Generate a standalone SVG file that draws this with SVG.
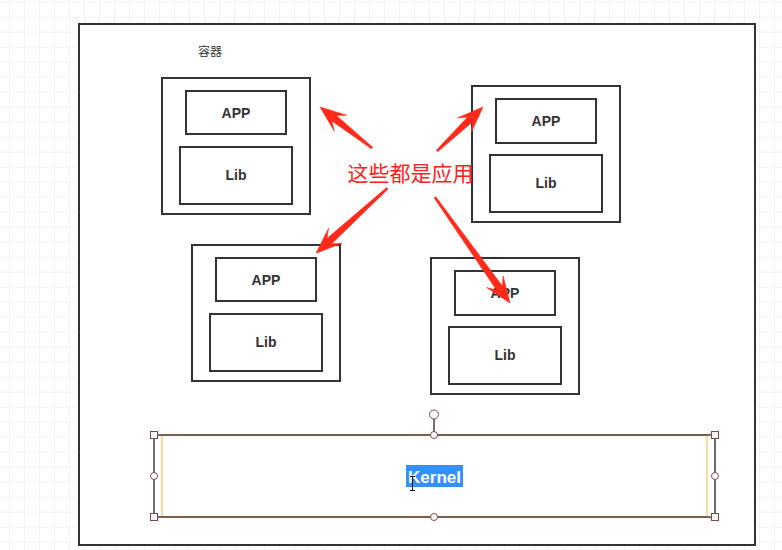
<svg xmlns="http://www.w3.org/2000/svg" width="782" height="550" viewBox="0 0 782 550">
<defs>
<pattern id="grid" x="9" y="1.7" width="15" height="15" patternUnits="userSpaceOnUse">
<path d="M0 0H15M0 0V15" fill="none" stroke="#e8e8e8" stroke-width="1"/>
</pattern>
</defs>
<style>
.box{fill:#fff;stroke:#333;stroke-width:2}
.lbl{font-family:"Liberation Sans",Arial,sans-serif;font-weight:bold;font-size:14px;fill:#333;text-anchor:middle}
.arrow{fill:#ff2a1a;stroke:#ff2a1a;stroke-width:0.6;stroke-linejoin:round}
.handle{fill:#fff;stroke:#7a4a4a;stroke-width:1}
.sel{fill:none;stroke:#3e2e2e;stroke-width:1.4}
</style>
<rect width="782" height="550" fill="#fff"/>
<rect width="782" height="550" fill="url(#grid)"/>
<g id="container">
<rect x="79" y="24" width="676" height="521" class="box"/>
<text x="210" y="56" font-family="'Noto Sans CJK SC','Liberation Sans',sans-serif" font-size="12" fill="#333" text-anchor="middle">容器</text>
</g>
<g id="app1">
<rect x="162" y="78" width="148" height="136" class="box"/>
<rect x="186" y="91" width="100" height="43" class="box"/>
<text x="236" y="118" class="lbl">APP</text>
<rect x="180" y="147" width="112" height="57" class="box"/>
<text x="236" y="180" class="lbl">Lib</text>
</g>
<g id="app2">
<rect x="472" y="86" width="148" height="136" class="box"/>
<rect x="496" y="99" width="100" height="44" class="box"/>
<text x="546" y="126" class="lbl">APP</text>
<rect x="490" y="155" width="112" height="57" class="box"/>
<text x="546" y="188" class="lbl">Lib</text>
</g>
<g id="app3">
<rect x="192" y="245" width="148" height="136" class="box"/>
<rect x="216" y="258" width="100" height="43" class="box"/>
<text x="266" y="285" class="lbl">APP</text>
<rect x="210" y="314" width="112" height="57" class="box"/>
<text x="266" y="347" class="lbl">Lib</text>
</g>
<g id="app4">
<rect x="431" y="258" width="148" height="136" class="box"/>
<rect x="455" y="271" width="100" height="44" class="box"/>
<text x="505" y="298" class="lbl">APP</text>
<rect x="449" y="327" width="112" height="57" class="box"/>
<text x="505" y="360" class="lbl">Lib</text>
</g>
<g id="kernel">
<rect x="162" y="435" width="545" height="82" fill="#fff" stroke="#f5dca8" stroke-width="2.4"/>
<rect x="154" y="435" width="561" height="82" class="sel"/>
<line x1="434" y1="419" x2="434" y2="435" class="sel"/>
<rect x="406" y="465" width="57" height="22" fill="#3390ff"/>
<text x="434.5" y="482.5" font-family="'Liberation Sans',Arial,sans-serif" font-weight="bold" font-size="17" fill="#fff" text-anchor="middle">Kernel</text>
<path d="M410 476.5h5M412.5 476.5v14M410 490.5h5" fill="none" stroke="#111" stroke-width="1"/>
<rect x="150.5" y="431.5" width="7" height="7" class="handle"/>
<rect x="711.5" y="431.5" width="7" height="7" class="handle"/>
<rect x="150.5" y="513.5" width="7" height="7" class="handle"/>
<rect x="711.5" y="513.5" width="7" height="7" class="handle"/>
<circle cx="434" cy="435" r="3.5" class="handle"/>
<circle cx="434" cy="517" r="3.5" class="handle"/>
<circle cx="154" cy="476" r="3.5" class="handle"/>
<circle cx="715" cy="476" r="3.5" class="handle"/>
<circle cx="434" cy="414.5" r="4.5" class="handle"/>
</g>
<g id="connectors">
<polygon class="arrow" points="372.6,147.2 336.3,115.4 346.6,115.2 320,107 334.2,131.0 331.9,120.9 371.4,148.8"/>
<polygon class="arrow" points="437.7,151.7 472.4,122.0 471.3,132.3 483,107 457.4,117.9 467.6,117.0 436.3,150.3"/>
<polygon class="arrow" points="386.6,187.6 326.9,238.6 328.5,228.4 316,253.3 341.9,243.2 331.7,243.8 388.0,189.0"/>
<polygon class="arrow" points="434.2,197.9 496.7,290.3 486.7,287.6 510,303 503.1,276.0 502.5,286.3 435.8,196.7"/>
</g>
<g id="note">
<text x="410.5" y="181" font-family="'Noto Sans CJK SC','Liberation Sans',sans-serif" font-size="21" fill="#ff2020" text-anchor="middle">这些都是应用</text>
</g>
</svg>
